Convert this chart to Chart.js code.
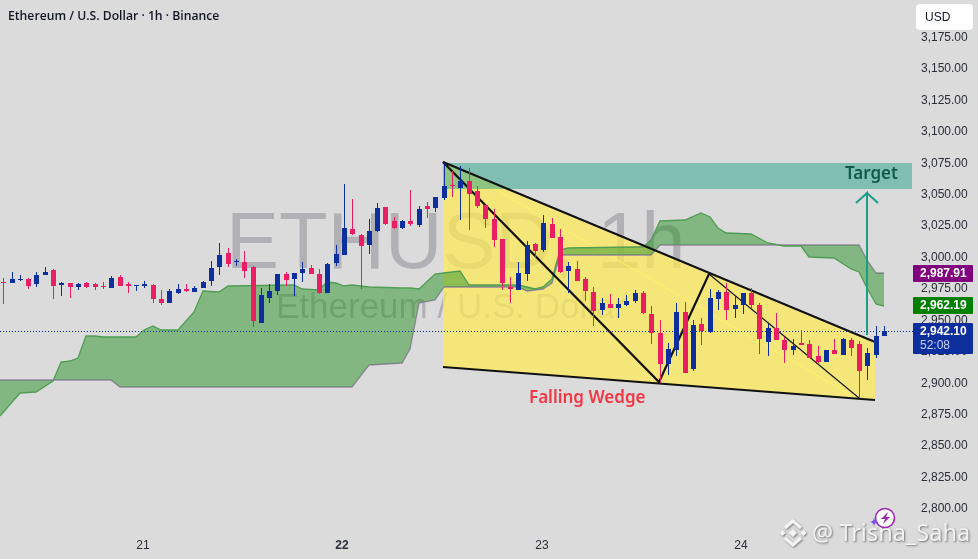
<!DOCTYPE html>
<html>
<head>
<meta charset="utf-8">
<title>ETHUSD 1h</title>
<script src="https://cdn.jsdelivr.net/npm/chart.js@4/dist/chart.umd.min.js"></script>
<style>
    html, body { margin: 0; padding: 0; background: #dbdbdb; overflow: hidden; }
    canvas { display: block; }
</style>
</head>
<body>
<canvas id="chart" width="978" height="559"></canvas>
<script>
var opens = [2980.1, 2979.3, 2981.6, 2982.4, 2978.5, 2985.6, 2989.6, 2977.7, 2979.3, 2976.1,
    2979.3, 2978.5, 2976.9, 2975.3, 2984.0, 2978.5, 2976.9, 2976.9, 2977.7, 2966.5,
    2963.3, 2971.3, 2974.5, 2972.1, 2975.3, 2980.9, 2992.0, 3003.1, 2996.0, 2996.0,
    2992.0, 2947.4, 2967.3, 2972.9, 2986.4, 2982.4, 2987.2, 2991.2, 2986.4, 2971.3,
    2995.2, 3001.5, 3022.2, 3017.4, 3009.5, 3020.6, 3039.7, 3028.6, 3023.0, 3028.6,
    3025.4, 3040.5, 3038.9, 3046.9, 3057.2, 3054.9, 3060.4, 3052.5, 3041.3, 3030.2,
    3014.3, 2976.1, 2973.7, 2986.4, 3010.3, 3005.5, 3026.2, 3015.9, 2988.8, 2990.4,
    2982.4, 2972.1, 2957.8, 2962.5, 2959.3, 2961.7, 2964.9, 2971.3, 2954.6, 2939.5,
    2914.8, 2925.9, 2956.2, 2910.8, 2946.6, 2940.2, 2966.5, 2972.1, 2958.6, 2961.7,
    2971.3, 2961.7, 2932.3, 2943.4, 2933.9, 2925.9, 2931.5, 2930.7, 2921.1, 2916.4,
    2925.9, 2921.9, 2933.9, 2930.7, 2913.2, 2921.9, 2937.1]
var highs = [2983.0, 2988.0, 2985.6, 2983.5, 2988.0, 2992.0, 2990.4, 2980.1, 2979.3, 2979.3,
    2980.1, 2979.3, 2980.1, 2984.8, 2985.6, 2980.1, 2977.7, 2980.9, 2978.5, 2973.7,
    2974.5, 2978.5, 2978.5, 2976.9, 2980.9, 2996.8, 3011.1, 3007.1, 2998.4, 3004.7,
    2992.8, 2975.3, 2978.5, 2986.4, 2988.0, 2987.2, 2996.0, 2993.6, 2990.4, 2995.2,
    3009.5, 3058.0, 3046.1, 3018.2, 3030.2, 3042.9, 3039.7, 3031.8, 3029.4, 3053.3,
    3040.5, 3043.7, 3047.7, 3074.5, 3068.4, 3072.4, 3070.8, 3056.4, 3041.3, 3038.1,
    3014.3, 2984.0, 2996.0, 3012.7, 3011.1, 3033.4, 3031.0, 3022.2, 2996.0, 2996.8,
    2984.0, 2976.1, 2967.3, 2970.5, 2967.3, 2969.7, 2973.7, 2972.9, 2960.9, 2949.8,
    2931.5, 2963.3, 2964.1, 2949.8, 2951.4, 2974.5, 2973.7, 2979.2, 2969.7, 2971.3,
    2975.3, 2963.3, 2946.6, 2955.4, 2936.3, 2934.7, 2941.8, 2933.9, 2929.1, 2925.9,
    2934.7, 2935.5, 2935.5, 2933.1, 2927.5, 2945.0, 2945.0]
var lows = [2962.5, 2979.3, 2980.9, 2974.8, 2976.3, 2985.6, 2966.5, 2968.9, 2967.3, 2973.7,
    2975.3, 2973.7, 2974.5, 2975.3, 2976.9, 2971.3, 2972.9, 2975.3, 2963.3, 2961.8,
    2963.3, 2970.5, 2972.1, 2972.1, 2975.3, 2976.9, 2985.6, 2992.0, 2992.8, 2983.2,
    2944.2, 2947.4, 2963.3, 2969.7, 2976.9, 2968.9, 2980.1, 2986.4, 2970.5, 2971.3,
    2992.8, 3001.5, 3017.4, 2974.5, 3002.3, 3019.8, 3025.4, 3022.2, 3022.2, 3024.6,
    3023.8, 3031.0, 3035.8, 3045.3, 3047.7, 3029.4, 3021.4, 3038.9, 3023.0, 3007.9,
    2973.7, 2963.3, 2973.7, 2980.8, 2999.1, 3003.9, 3015.1, 2987.2, 2971.3, 2980.8,
    2964.9, 2945.0, 2953.8, 2959.3, 2951.4, 2960.9, 2963.3, 2954.6, 2930.7, 2899.4,
    2906.0, 2921.1, 2907.6, 2909.2, 2929.9, 2939.5, 2957.8, 2949.8, 2951.4, 2954.6,
    2959.3, 2922.7, 2921.1, 2933.9, 2915.6, 2921.9, 2929.9, 2919.6, 2915.6, 2916.4,
    2922.7, 2921.9, 2921.1, 2887.5, 2902.0, 2919.6, 2937.1]
var closes = [2979.3, 2982.4, 2982.7, 2976.9, 2985.6, 2988.0, 2976.9, 2979.3, 2976.1, 2978.5,
    2976.1, 2976.1, 2976.1, 2983.2, 2976.9, 2976.9, 2977.7, 2978.5, 2966.5, 2963.3,
    2972.9, 2974.5, 2972.9, 2975.3, 2980.1, 2991.2, 3001.5, 2994.4, 2996.8, 2988.8,
    2949.0, 2969.7, 2972.9, 2986.4, 2981.6, 2987.2, 2990.4, 2986.4, 2971.3, 2994.4,
    3002.3, 3023.0, 3018.2, 3008.7, 3020.6, 3038.9, 3026.2, 3023.0, 3028.6, 3026.2,
    3038.1, 3038.1, 3047.7, 3056.4, 3056.4, 3060.4, 3050.1, 3040.5, 3030.2, 3013.5,
    2979.2, 2974.5, 2987.2, 3009.5, 3004.7, 3027.0, 3015.1, 2988.0, 2992.8, 2980.8,
    2972.9, 2957.0, 2963.3, 2959.3, 2962.5, 2964.9, 2971.3, 2955.4, 2939.5, 2914.8,
    2926.7, 2956.2, 2907.6, 2945.8, 2941.0, 2967.3, 2972.1, 2957.8, 2961.7, 2971.3,
    2961.7, 2934.7, 2943.4, 2933.9, 2925.9, 2929.1, 2929.9, 2919.6, 2916.4, 2925.9,
    2922.7, 2934.7, 2927.5, 2909.2, 2923.5, 2937.1, 2941.0]

// ichimoku cloud, both spans read at the same candles
var cloudIdx = [-0.4, 2, 4, 6, 7, 8, 9, 10, 11, 12, 13, 14, 16, 17, 18, 19, 21, 23, 24, 26, 27, 35, 36, 38, 39, 40, 41, 42,
    44, 48, 49, 50, 52, 53, 55, 56, 62, 63, 64, 65, 66, 67, 68, 76, 77, 78, 79, 82, 84, 85, 86, 87, 90, 92, 94, 96, 97,
    100, 102, 103, 104, 105, 106]
var spanA = [2873.4, 2891.7, 2892.5, 2901.2, 2916.3, 2917.1, 2919.5, 2937.0, 2937.0, 2936.2, 2936.2, 2936.2, 2936.2,
    2941.8, 2945.0, 2941.8, 2941.8, 2956.1, 2972.9, 2972.1, 2976.8, 2977.6, 2974.5, 2973.7, 2980.0, 2979.2, 2976.8, 2977.6,
    2976.0, 2975.3, 2975.3, 2974.5, 2986.4, 2987.2, 2988.8, 2977.6, 2977.6, 2976.0, 2974.5, 2976.0, 2982.4, 3005.5, 3007.1,
    3007.9, 3007.9, 3013.5, 3028.6, 3029.4, 3035.0, 3031.8, 3023.0, 3019.0, 3018.2, 3011.1, 3008.7, 3008.7, 3000.0,
    2999.1, 2990.4, 2988.0, 2975.3, 2962.5, 2960.9]
var spanB = [2902.0, 2902.0, 2902.0, 2902.0, 2902.0, 2902.0, 2902.0, 2902.0, 2902.0, 2902.0, 2902.0, 2896.4, 2896.4,
    2896.4, 2896.4, 2896.4, 2896.4, 2896.4, 2896.4, 2896.4, 2896.4, 2896.4, 2896.4, 2896.4, 2896.4, 2896.4, 2896.4, 2896.4,
    2914.0, 2915.5, 2926.7, 2963.3, 2965.7, 2976.0, 2976.0, 2976.0, 2976.0, 2972.9, 2973.7, 2974.5, 2979.2, 3001.5, 3001.5,
    3001.5, 3001.5, 3001.5, 3009.5, 3009.5, 3009.5, 3009.5, 3009.5, 3009.5, 3009.5, 3009.5, 3009.5, 3009.5, 3009.5,
    3009.5, 3009.5, 3009.5, 2997.5, 2987.2, 2987.2]

// drawings on the chart, candle index and price
var wedgeIdx = [52.9, 104.9]
var wedgeTop = [3075.5, 2932.3]
var wedgeBottom = [2912.6, 2886.1]
var targetIdx = [52.9, 109.35]
var targetTop = [3074.8, 3074.8]
var targetBottom = [3054.1, 3054.1]
var zigIdx = [52.9, 78.9, 84.9]
var zigPrice = [3075.5, 2900.4, 2986.4]
var zigThinIdx = [84.9, 102.97]
var zigThinPrice = [2986.4, 2887.7]
var paleIdx = [58.9, 103.1]
var palePrice = [3054.9, 2886.1]
var arrowIdx = [103.9, 103.9, 102.6, 103.9, 105.3]
var arrowPrice = [2937.8, 3050.9, 3042.9, 3050.9, 3042.9]
var lastPriceIdx = [-0.4, 110]
var lastPrice = [2941.0, 2941.0]

var priceTicks = [3175, 3150, 3125, 3100, 3075, 3050, 3025, 3000, 2975, 2950, 2925, 2900, 2875, 2850, 2825, 2800]
var dayTicks = [16.8, 40.8, 64.8, 88.8]
var dayLabels = ['21', '22', '23', '24']

var UP = '#0d2f9e'
var DOWN = '#e91e63'
var FONT = '"Liberation Sans"'

function pts(xs, ys) {
    return xs.map(function (x, i) { return {x: x, y: ys[i]} })
}

function lineSet(xs, ys, color, width, order, extra) {
    return Object.assign({
        type: 'line',
        data: pts(xs, ys),
        borderColor: color,
        borderWidth: width,
        pointRadius: 0,
        tension: 0,
        fill: false,
        order: order
    }, extra || {})
}

var candleColors = opens.map(function (o, i) { return closes[i] >= o ? UP : DOWN })

var datasets = [
    lineSet(wedgeIdx, wedgeTop, 'transparent', 0, 20, {fill: {target: 1, above: 'rgba(255,235,80,.7)', below: 'rgba(255,235,80,.7)'}}),
    lineSet(wedgeIdx, wedgeBottom, 'transparent', 0, 20),
    lineSet(cloudIdx, spanB, '#a183ad', 1.3, 18),
    lineSet(cloudIdx, spanA, '#4f9e54', 1.3, 17, {fill: {target: 2, above: 'rgba(41,147,41,.5)', below: 'rgba(41,147,41,.5)'}}),
    lineSet(targetIdx, targetTop, 'transparent', 0, 16, {fill: {target: 5, above: 'rgba(37,161,137,.5)', below: 'rgba(37,161,137,.5)'}}),
    lineSet(targetIdx, targetBottom, 'transparent', 0, 16),
    lineSet(paleIdx, palePrice, '#fff06a', 1, 19),
    lineSet(wedgeIdx, wedgeTop, '#111111', 2.2, 9),
    lineSet(wedgeIdx, wedgeBottom, '#111111', 2.2, 9),
    lineSet(zigIdx, zigPrice, '#111111', 2.2, 9),
    lineSet(zigThinIdx, zigThinPrice, '#111111', 1.1, 9),
    lineSet(arrowIdx, arrowPrice, '#1a9e84', 2, 8),
    lineSet(lastPriceIdx, lastPrice, UP, 1, 7, {borderDash: [1, 2], crispY: true}),
    {
        type: 'bar',
        data: opens.map(function (o, i) { return {x: i, y: [lows[i], highs[i]]} }),
        backgroundColor: candleColors,
        grouped: false,
        maxBarThickness: 1,
        barPercentage: 1,
        categoryPercentage: 1,
        inflateAmount: 0,
        order: 3,
        crispX: true
    },
    {
        type: 'bar',
        data: opens.map(function (o, i) { return {x: i, y: [o, closes[i]]} }),
        backgroundColor: candleColors,
        grouped: false,
        maxBarThickness: 5,
        barPercentage: 1,
        categoryPercentage: 1,
        inflateAmount: 0,
        minBarLength: 1,
        order: 2,
        crispX: true
    }
]

function roundBox(ctx, x, y, w, h, r, fill) {
    ctx.fillStyle = fill
    ctx.beginPath()
    ctx.roundRect(x, y, w, h, r)
    ctx.fill()
}

function priceBox(ctx, top, height, fill, text, sub) {
    roundBox(ctx, 913, top, 60, height, 1, fill)
    ctx.fillStyle = '#ffffff'
    ctx.font = 'bold 12px ' + FONT
    ctx.textAlign = 'left'
    ctx.textBaseline = 'middle'
    ctx.fillText(text, 920, top + 9)
    if (sub) {
        ctx.fillStyle = '#c8d0ee'
        ctx.font = '12px ' + FONT
        ctx.fillText(sub, 920, top + 23)
    }
}

function binanceLogo(ctx, cx, cy) {
    function diamond(x, y, r) {
        ctx.beginPath()
        ctx.moveTo(x, y - r)
        ctx.lineTo(x + r, y)
        ctx.lineTo(x, y + r)
        ctx.lineTo(x - r, y)
        ctx.closePath()
        ctx.fill()
    }
    ctx.save()
    ctx.fillStyle = '#f4f4f4'
    ctx.strokeStyle = '#f4f4f4'
    ctx.shadowColor = 'rgba(90,90,90,.7)'
    ctx.shadowBlur = 2
    ctx.shadowOffsetX = 1
    ctx.shadowOffsetY = 1
    diamond(cx, cy, 4)
    diamond(cx - 10.5, cy, 3)
    diamond(cx + 10.5, cy, 3)
    ctx.lineWidth = 3
    ctx.beginPath()
    ctx.moveTo(cx - 8, cy - 5)
    ctx.lineTo(cx, cy - 12)
    ctx.lineTo(cx + 8, cy - 5)
    ctx.moveTo(cx - 8, cy + 5)
    ctx.lineTo(cx, cy + 12)
    ctx.lineTo(cx + 8, cy + 5)
    ctx.stroke()
    ctx.restore()
}

function sparkBadge(ctx, cx, cy) {
    ctx.fillStyle = '#ffffff'
    ctx.strokeStyle = '#9c27b0'
    ctx.lineWidth = 1.6
    ctx.beginPath()
    ctx.arc(cx, cy, 9.5, 0, Math.PI * 2)
    ctx.fill()
    ctx.stroke()
    ctx.fillStyle = '#9c27b0'
    ctx.beginPath()
    ctx.moveTo(cx + 3, cy - 6)
    ctx.lineTo(cx - 4, cy + 1)
    ctx.lineTo(cx, cy + 1)
    ctx.lineTo(cx - 2, cy + 6)
    ctx.lineTo(cx + 5, cy - 1)
    ctx.lineTo(cx + 1, cy - 1)
    ctx.closePath()
    ctx.fill()
    var sx = cx - 11, sy = cy + 4
    ctx.fillStyle = '#7c4dff'
    ctx.beginPath()
    ctx.moveTo(sx, sy - 5)
    ctx.quadraticCurveTo(sx, sy, sx + 5, sy)
    ctx.quadraticCurveTo(sx, sy, sx, sy + 5)
    ctx.quadraticCurveTo(sx, sy, sx - 5, sy)
    ctx.quadraticCurveTo(sx, sy, sx, sy - 5)
    ctx.fill()
}

var decor = {
    id: 'decor',
    beforeDatasetsDraw: function (chart) {
        var ctx = chart.ctx
        ctx.save()
        ctx.fillStyle = '#b1b1b5'
        ctx.textAlign = 'left'
        ctx.textBaseline = 'alphabetic'
        ctx.font = '79.5px ' + FONT
        ctx.fillText('ETHUSD, 1h', 226, 268)
        ctx.font = '35px ' + FONT
        ctx.fillText('Ethereum / U.S. Dollar', 276, 318)
        ctx.restore()
    },
    beforeDatasetDraw: function (chart, args) {
        var ds = chart.data.datasets[args.index]
        if (ds.crispX || ds.crispY) {
            chart.ctx.save()
            chart.ctx.translate(ds.crispX ? .5 : 0, ds.crispY ? .5 : 0)
        }
    },
    afterDatasetDraw: function (chart, args) {
        var ds = chart.data.datasets[args.index]
        if (ds.crispX || ds.crispY) chart.ctx.restore()
    },
    afterDraw: function (chart) {
        var ctx = chart.ctx
        ctx.save()
        ctx.textBaseline = 'middle'
        ctx.textAlign = 'left'

        ctx.fillStyle = '#131722'
        ctx.font = '600 12.2px "Open Sans"'
        ctx.fillText('Ethereum / U.S. Dollar · 1h · Binance', 8, 17)

        ctx.fillStyle = '#0e5a4b'
        ctx.font = '600 17px "Noto Sans"'
        ctx.fillText('Target', 845, 174)

        ctx.fillStyle = '#f23645'
        ctx.font = '600 17px "Noto Sans"'
        ctx.fillText('Falling Wedge', 529, 398)

        roundBox(ctx, 916, 4, 57, 26, 4, '#ffffff')
        ctx.fillStyle = '#131722'
        ctx.font = '12px ' + FONT
        ctx.fillText('USD', 925, 18)

        priceBox(ctx, 265, 17, '#800080', '2,987.91')
        priceBox(ctx, 297, 17, '#008000', '2,962.19')
        priceBox(ctx, 323, 31, UP, '2,942.10', '52:08')

        binanceLogo(ctx, 793, 533)
        ctx.save()
        ctx.fillStyle = '#f2f2f2'
        ctx.shadowColor = 'rgba(80,80,80,.75)'
        ctx.shadowBlur = 2
        ctx.shadowOffsetX = 1
        ctx.shadowOffsetY = 1
        ctx.font = '23.5px "Noto Sans"'
        ctx.fillText('@ Trisha_Saha', 812, 534)
        ctx.restore()
        sparkBadge(ctx, 885, 518)
        ctx.restore()
    }
}

new Chart(document.getElementById('chart'), {
    type: 'line',
    data: {datasets: datasets},
    plugins: [decor],
    options: {
        responsive: false,
        animation: false,
        layout: {padding: 0},
        plugins: {legend: {display: false}, tooltip: {enabled: false}},
        scales: {
            x: {
                type: 'linear',
                offset: false,
                min: -0.385,
                max: 109.96,
                alignToPixels: true,
                grid: {display: false, offset: false, tickLength: 0},
                border: {display: false},
                afterBuildTicks: function (scale) {
                    scale.ticks = dayTicks.map(function (v) { return {value: v} })
                },
                afterFit: function (scale) {
                    scale.height = 29
                    scale.paddingLeft = scale.paddingRight = 0
                },
                ticks: {
                    autoSkip: false,
                    maxRotation: 0,
                    padding: 8,
                    color: '#2a2e39',
                    font: function (c) { return {family: 'Liberation Sans', size: 12, weight: c.index === 1 ? 'bold' : 'normal'} },
                    callback: function (v, i) { return dayLabels[i] }
                }
            },
            y: {
                position: 'right',
                min: 2782.6,
                max: 3204.5,
                alignToPixels: true,
                grid: {display: false, tickLength: 0},
                border: {display: false},
                afterBuildTicks: function (scale) {
                    scale.ticks = priceTicks.map(function (v) { return {value: v} })
                },
                afterFit: function (scale) {
                    scale.width = 61
                    scale.paddingTop = scale.paddingBottom = 0
                },
                ticks: {
                    autoSkip: false,
                    padding: 4,
                    labelOffset: 1,
                    color: '#2a2e39',
                    font: {family: 'Liberation Sans', size: 12},
                    callback: function (v) {
                        return v.toLocaleString('en-US', {minimumFractionDigits: 2, maximumFractionDigits: 2})
                    }
                }
            }
        }
    }
})
</script>
</body>
</html>
